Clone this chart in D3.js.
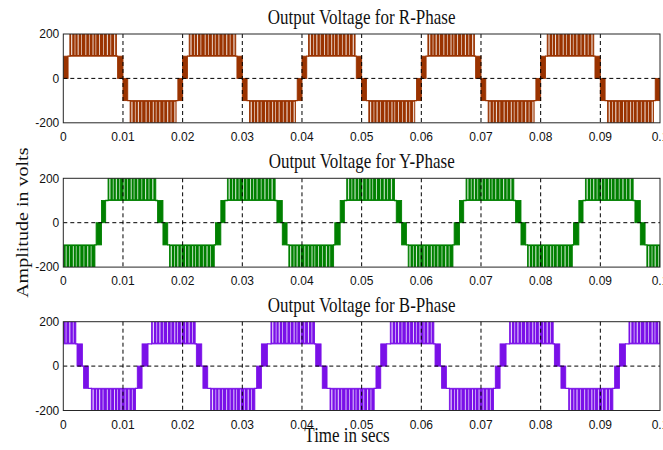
<!DOCTYPE html>
<html>
<head>
<meta charset="utf-8">
<script src="https://cdn.jsdelivr.net/npm/d3@7"></script>
<style>
  body { margin: 0; background: #fff; }
  svg { display: block; }
</style>
</head>
<body>
<svg id="chart" width="663" height="450"></svg>
<script>
// ---- data -------------------------------------------------------------
// fundamental period of the five-level inverter output (50 Hz)
const period = 0.02;

const xTicks = [0, 0.01, 0.02, 0.03, 0.04, 0.05, 0.06, 0.07, 0.08, 0.09, 0.1];
const xTickLabels = ["0", "0.01", "0.02", "0.03", "0.04", "0.05", "0.06", "0.07", "0.08", "0.09", "0.1"];
const yTicks = [-200, 0, 200];
const yTickLabels = ["-200", "0", "200"];

const panelTitles = ["Output Voltage for R-Phase", "Output Voltage for Y-Phase", "Output Voltage for B-Phase"];
const phaseColors = ["#9a3300", "#008000", "#7a10e8"];

// one cycle of each phase voltage: [start (s), end (s), low (V), high (V)]
// low == high is a flat level; low != high is a PWM switching band
const rCycle = [
  [0.0000, 0.0008,    0,  100],
  [0.0008, 0.0011,  100,  100],
  [0.0011, 0.0089,  100,  200],
  [0.0089, 0.0091,  100,  100],
  [0.0091, 0.0100,    0,  100],
  [0.0100, 0.0108, -100,    0],
  [0.0108, 0.0112, -100, -100],
  [0.0112, 0.0189, -200, -100],
  [0.0189, 0.0192, -100, -100],
  [0.0192, 0.0200, -100,    0]
];
const yCycle = [
  [-0.0022, 0.0053, -200, -100],
  [0.0053, 0.0055, -100, -100],
  [0.0055, 0.0064, -100,    0],
  [0.0064, 0.0071,    0,  100],
  [0.0071, 0.0075,  100,  100],
  [0.0075, 0.0155,  100,  200],
  [0.0155, 0.0158,  100,  100],
  [0.0158, 0.0167,    0,  100],
  [0.0167, 0.0175, -100,    0],
  [0.0175, 0.0178, -100, -100]
];
const bCycle = [
  [-0.0052, 0.0021,  100,  200],
  [0.0021, 0.0023,  100,  100],
  [0.0023, 0.0032,    0,  100],
  [0.0032, 0.0034,    0,    0],
  [0.0034, 0.0042, -100,    0],
  [0.0042, 0.0047, -100, -100],
  [0.0047, 0.0121, -200, -100],
  [0.0121, 0.0124, -100, -100],
  [0.0124, 0.0132, -100,    0],
  [0.0132, 0.0142,    0,  100],
  [0.0142, 0.0148,  100,  100]
];
const phaseCycles = [rCycle, yCycle, bCycle];

// open intervals inside the 100-200 V switching bands:
// offset from the band start (s) and duration (s)
const pwmGapOffsets = [0.0002, 0.0008, 0.0013, 0.0019, 0.0026, 0.0032, 0.0038, 0.0043, 0.0049, 0.0056, 0.0062, 0.0068, 0.0074];
const pwmGapWidths  = [0.0002, 0.00012, 0.00018, 0.00012, 0.00015, 0.0001, 0.00016, 0.0001, 0.00015, 0.00012, 0.00018, 0.00012, 0.0002];

// ---- layout -----------------------------------------------------------
const svg = d3.select("#chart");
const plotLeft = 63.3, plotRight = 660;
const panelTops = [34, 178.3, 321.7];
const panelHeight = 88.8;
const serif = "'Liberation Serif', 'Times New Roman', serif";
const sans = "'Liberation Sans', Arial, Helvetica, sans-serif";
const textStretch = 1.18;

const x = d3.scaleLinear().domain([0, 0.1]).range([plotLeft, plotRight]);

function tiledSegments(cycle) {
  const out = [];
  for (let k = -1; k <= 5; k++) {
    cycle.forEach(s => out.push({ t0: s[0] + k * period, t1: s[1] + k * period, lo: s[2], hi: s[3] }));
  }
  return out.filter(s => s.t1 > x.domain()[0] && s.t0 < x.domain()[1]);
}

phaseCycles.forEach((cycle, i) => {
  const top = panelTops[i];
  const y = d3.scaleLinear().domain([-200, 200]).range([top + panelHeight, top]);
  const color = phaseColors[i];
  const g = svg.append("g");

  const clipId = "clip" + i;
  svg.append("clipPath").attr("id", clipId)
    .append("rect")
    .attr("x", plotLeft).attr("y", top)
    .attr("width", plotRight - plotLeft).attr("height", panelHeight);

  const wave = g.append("g").attr("clip-path", `url(#${clipId})`);
  const segs = tiledSegments(cycle);
  const bands = segs.filter(s => s.lo !== s.hi);
  const flats = segs.filter(s => s.lo === s.hi);

  // flat voltage levels
  wave.selectAll("line.level").data(flats).join("line")
    .attr("class", "level")
    .attr("x1", d => x(d.t0) - 0.5).attr("x2", d => x(d.t1) + 0.5)
    .attr("y1", d => y(d.lo)).attr("y2", d => y(d.lo))
    .attr("stroke", color).attr("stroke-width", 1.3);

  // densely switched bands
  wave.selectAll("rect.band").data(bands).join("rect")
    .attr("class", "band")
    .attr("x", d => x(d.t0)).attr("width", d => x(d.t1) - x(d.t0))
    .attr("y", d => y(d.hi)).attr("height", d => y(d.lo) - y(d.hi))
    .attr("fill", color).attr("stroke", color).attr("stroke-width", 0.9);

  // open intervals inside the outer (100-200 V) bands
  const gaps = [];
  bands.filter(d => Math.max(Math.abs(d.lo), Math.abs(d.hi)) === 200).forEach(d => {
    pwmGapOffsets.forEach((off, j) => {
      const w = pwmGapWidths[j];
      if (d.t0 + off + w < d.t1) gaps.push({ t: d.t0 + off, w: w, positive: d.hi > 0 });
    });
  });
  wave.selectAll("rect.gap").data(gaps).join("rect")
    .attr("class", "gap")
    .attr("x", d => x(d.t))
    .attr("width", d => Math.max(0.7, x(d.t + d.w) - x(d.t)))
    .attr("y", d => d.positive ? y(200) : y(-100) + 1.2)
    .attr("height", d => d.positive ? (y(100) - 1.2) - y(200) : y(-200) - (y(-100) + 1.2))
    .attr("fill", "#fff").attr("opacity", 0.82);

  // dashed grid on top of the waveform
  const grid = g.append("g").attr("stroke", "#000").attr("stroke-width", 1).attr("stroke-dasharray", "4,3");
  grid.selectAll("line.vgrid").data(xTicks.slice(1, -1)).join("line")
    .attr("x1", d => x(d)).attr("x2", d => x(d))
    .attr("y1", top).attr("y2", top + panelHeight);
  grid.append("line")
    .attr("x1", plotLeft).attr("x2", plotRight)
    .attr("y1", y(0)).attr("y2", y(0));

  // axes frame
  g.append("rect")
    .attr("x", plotLeft).attr("y", top)
    .attr("width", plotRight - plotLeft).attr("height", panelHeight)
    .attr("fill", "none").attr("stroke", "#262626").attr("stroke-width", 1);

  // tick labels
  g.selectAll("text.ytick").data(yTicks).join("text")
    .attr("x", plotLeft - 4).attr("y", d => y(d)).attr("dy", "0.36em")
    .attr("text-anchor", "end")
    .style("font-family", sans).style("font-size", "12px").attr("fill", "#111")
    .text((d, j) => yTickLabels[j]);
  g.selectAll("text.xtick").data(xTicks).join("text")
    .attr("x", d => x(d)).attr("y", top + panelHeight + 18)
    .attr("text-anchor", "middle")
    .style("font-family", sans).style("font-size", "12px").attr("fill", "#111")
    .text((d, j) => xTickLabels[j]);

  // panel title
  g.append("text")
    .attr("transform", `translate(${(plotLeft + plotRight) / 2},${top - 10}) scale(1,${textStretch})`)
    .attr("text-anchor", "middle")
    .style("font-family", serif).style("font-size", "17px").attr("fill", "#111")
    .text(panelTitles[i]);
});

// shared axis labels
svg.append("text")
  .attr("transform", `translate(28,${panelTops[1] + panelHeight / 2}) rotate(-90) scale(${textStretch},1)`)
  .attr("text-anchor", "middle")
  .style("font-family", serif).style("font-size", "17px").attr("fill", "#111")
  .text("Amplitude in volts");
svg.append("text")
  .attr("transform", `translate(347,442) scale(1,${textStretch})`)
  .attr("text-anchor", "middle")
  .style("font-family", serif).style("font-size", "17px").attr("fill", "#111")
  .text("Time in secs");
</script>
</body>
</html>
